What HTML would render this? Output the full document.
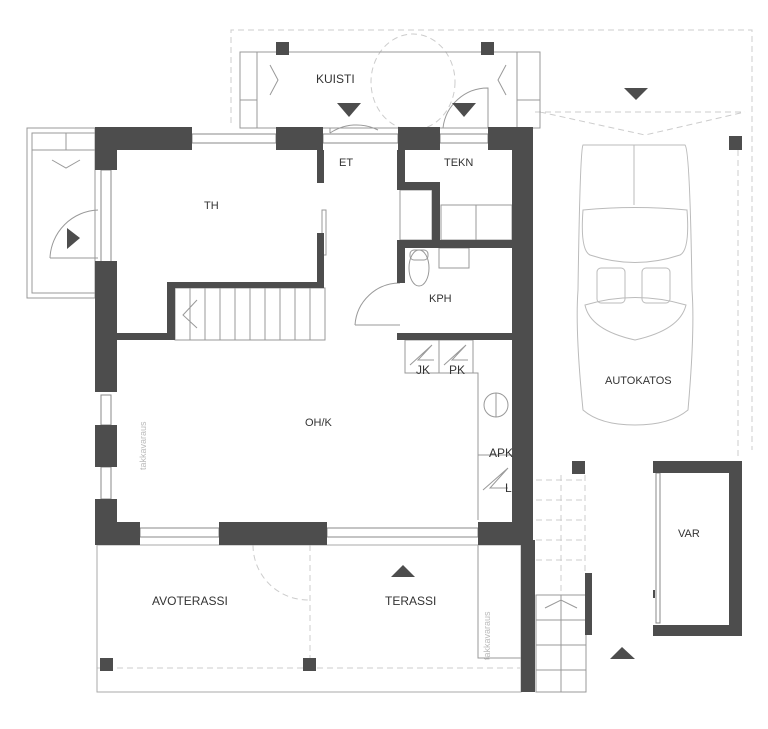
<!DOCTYPE html>
<html><head><meta charset="utf-8"><style>
html,body{margin:0;padding:0;background:#fff;}
svg{display:block;}
text{font-family:"Liberation Sans",sans-serif;font-size:11px;fill:#333;}
</style></head><body>
<svg width="768" height="729" viewBox="0 0 768 729" xmlns="http://www.w3.org/2000/svg">
<g fill="none" stroke="#ccc" stroke-width="1" stroke-dasharray="6,4">
<path d="M231 123 V30 H752 V450"/>
<path d="M535 112 H745 M540 112 L645 135 L745 112"/>
<path d="M738 150 V460"/>
<path d="M97 668 H520"/>
<path d="M310 545 V660"/>
<path d="M536 480 H585 M536 500 H585 M536 520 H585 M536 540 H585 M536 560 H585 M561 475 V595 M585 475 V573"/>
<ellipse cx="413" cy="82" rx="42" ry="48"/>
<path d="M253 545 A55 55 0 0 0 308 600"/>
</g>
<g fill="none" stroke="#999" stroke-width="1">
<rect x="240" y="52" width="300" height="76"/>
<line x1="257" y1="52" x2="257" y2="128"/><line x1="517" y1="52" x2="517" y2="128"/>
<line x1="240" y1="100" x2="257" y2="100"/><line x1="517" y1="100" x2="540" y2="100"/>
<path d="M270 65 L278 80 L270 95 M506 65 L498 80 L506 95"/>
<rect x="27" y="128" width="68" height="170"/>
<rect x="32" y="133" width="63" height="160"/>
<line x1="32" y1="150" x2="95" y2="150"/><line x1="66" y1="133" x2="66" y2="150"/>
<path d="M52 160 L66 168 L80 160"/>
<path d="M50 258 A50 50 0 0 1 98 210" /><line x1="50" y1="258" x2="98" y2="258"/>
<path d="M330 133 A48 48 0 0 1 378 130 M330 133 V128 M443 128 A45 45 0 0 1 488 88 V128"/>
<path d="M355 325 A45 45 0 0 1 400 283 M355 325 H400"/>
<rect x="322" y="210" width="4" height="45"/>
<g stroke="#888">
<rect x="192" y="134" width="84" height="9"/><rect x="323" y="134" width="75" height="9"/><rect x="440" y="134" width="48" height="9"/>
<rect x="140" y="528" width="79" height="9"/><rect x="327" y="528" width="151" height="9"/>
<rect x="101" y="170" width="10" height="92"/><rect x="101" y="395" width="10" height="30"/><rect x="101" y="467" width="10" height="32"/>
<rect x="656" y="473" width="4" height="150"/>
</g>
<g stroke="#999">
<rect x="175" y="288" width="150" height="52"/>
<path d="M190 288V340M205 288V340M220 288V340M235 288V340M250 288V340M265 288V340M280 288V340M295 288V340M310 288V340"/>
<path d="M197 300 L183 315 L197 328"/>
<rect x="536" y="595" width="50" height="97"/>
<path d="M536 620H586M536 645H586M536 670H586M561 595V692"/>
<path d="M545 608 L561 600 L577 608"/>
</g>
<rect x="441" y="205" width="71" height="35"/><line x1="476" y1="205" x2="476" y2="240"/>
<rect x="400" y="190" width="32" height="50"/>
<ellipse cx="419" cy="268" rx="10" ry="18"/><rect x="410" y="250" width="18" height="10" rx="4"/>
<rect x="439" y="248" width="30" height="20"/>
<circle cx="496" cy="405" r="12"/><line x1="496" y1="393" x2="496" y2="417"/>
<rect x="405" y="340" width="68" height="33"/><line x1="439" y1="340" x2="439" y2="373"/>
<path d="M410 365 L432 345 L418 360 L434 360 M444 365 L466 345 L452 360 L468 360"/>
<path d="M473 373 H478 V520 M478 455 H512"/>
<path d="M483 490 L508 468 L490 488 L508 488"/>
<rect x="478" y="545" width="43" height="113"/>
<g stroke="#bbb">
<path d="M583 145 Q580 150 578 290 Q575 330 583 410 Q600 425 635 425 Q670 425 688 410 Q695 330 692 290 Q690 150 685 145 Z"/>
<path d="M583 210 Q635 205 687 210 Q690 250 680 255 Q635 270 590 255 Q580 250 583 210 Z"/>
<path d="M585 305 Q635 290 686 305 Q680 330 635 340 Q590 330 585 305 Z"/>
<rect x="597" y="268" width="28" height="35" rx="4"/><rect x="642" y="268" width="28" height="35" rx="4"/>
<line x1="634" y1="145" x2="634" y2="205"/>
</g>
</g>
<g fill="none" stroke="#aaa">
<rect x="97" y="545" width="424" height="147"/>
</g>
<text x="146" y="470" transform="rotate(-90 146 470)" style="font-size:9px;fill:#bbb">takkavaraus</text>
<text x="490" y="660" transform="rotate(-90 490 660)" style="font-size:9px;fill:#bbb">takkavaraus</text>
<g fill="#4d4d4d">
<rect x="95" y="127" width="97" height="23"/><rect x="95" y="127" width="22" height="43"/>
<rect x="276" y="127" width="47" height="23"/>
<rect x="398" y="127" width="42" height="23"/>
<rect x="488" y="127" width="45" height="23"/>
<rect x="512" y="127" width="21" height="418"/>
<rect x="521" y="540" width="14" height="152"/>
<rect x="95" y="261" width="22" height="131"/><rect x="95" y="425" width="22" height="42"/><rect x="95" y="499" width="22" height="46"/>
<rect x="95" y="522" width="45" height="23"/><rect x="219" y="522" width="108" height="23"/><rect x="478" y="522" width="55" height="23"/>
<rect x="317" y="150" width="7" height="33"/><rect x="317" y="233" width="7" height="55"/>
<rect x="167" y="282" width="157" height="6"/><rect x="167" y="282" width="8" height="58"/><rect x="117" y="333" width="58" height="7"/>
<rect x="397" y="150" width="8" height="40"/><rect x="397" y="182" width="43" height="8"/><rect x="432" y="182" width="8" height="62"/>
<rect x="397" y="240" width="115" height="8"/><rect x="397" y="240" width="8" height="43"/><rect x="397" y="333" width="115" height="7"/>
<rect x="653" y="461" width="89" height="12"/><rect x="729" y="461" width="13" height="175"/><rect x="653" y="625" width="89" height="11"/><rect x="653" y="461" width="6" height="12"/>
<rect x="585" y="573" width="7" height="62"/>
<rect x="276" y="42" width="13" height="13"/><rect x="481" y="42" width="13" height="13"/>
<rect x="729" y="136" width="13" height="14"/><rect x="572" y="461" width="13" height="13"/>
<rect x="100" y="658" width="13" height="13"/><rect x="303" y="658" width="13" height="13"/>
<path d="M337 103 H361 L349 117 Z M452 103 H476 L464 117 Z M624 88 H648 L636 100 Z M67 228 L80 238 L67 249 Z M391 577 H415 L403 565 Z M610 659 H635 L622 647 Z"/>
<rect x="653" y="590" width="2" height="8"/>
</g>
<text x="316" y="83" style="font-size:12px">KUISTI</text>
<text x="204" y="209">TH</text>
<text x="339" y="166">ET</text>
<text x="444" y="166">TEKN</text>
<text x="429" y="302">KPH</text>
<text x="305" y="426">OH/K</text>
<text x="416" y="374" style="font-size:12px">JK</text>
<text x="449" y="374" style="font-size:12px">PK</text>
<text x="489" y="457" style="font-size:12px">APK</text>
<text x="505" y="492" style="font-size:12px">L</text>
<text x="605" y="384">AUTOKATOS</text>
<text x="678" y="537">VAR</text>
<text x="152" y="605" style="font-size:12px">AVOTERASSI</text>
<text x="385" y="605" style="font-size:12px">TERASSI</text>
</svg>
</body></html>
